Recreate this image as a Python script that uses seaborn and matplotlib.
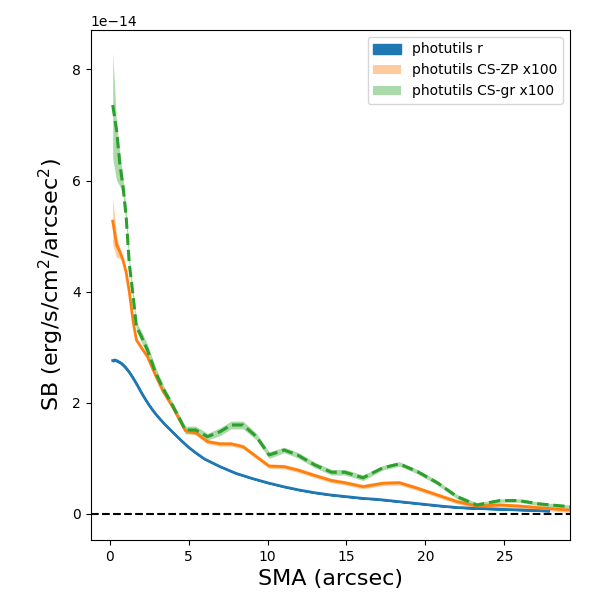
import numpy as np
import pandas as pd
import matplotlib
matplotlib.use("Agg")
import matplotlib.pyplot as plt
import seaborn as sns

# ---------------------------------------------------------------------------
# Data (SB in units of 1e-14 erg/s/cm^2/arcsec^2)
# ---------------------------------------------------------------------------
SCALE = 1e-14

# photutils r profile
r_sma = [0.2, 0.35, 0.5, 0.75, 1.0, 1.25, 1.5, 1.75, 2.0, 2.25, 2.5, 2.75, 3.0,
         3.5, 4.0, 4.5, 5.0, 5.5, 6.0, 6.5, 7.0, 7.5, 8.0, 9.0, 10.0, 11.0,
         12.0, 13.0, 14.0, 15.0, 16.0, 17.0, 18.0, 19.0, 20.0, 21.0, 22.0,
         23.0, 24.0, 25.0, 26.0, 27.0, 27.8]
r_sb = [2.76, 2.77, 2.75, 2.71, 2.64, 2.55, 2.44, 2.32, 2.19, 2.07, 1.96, 1.86,
        1.77, 1.61, 1.47, 1.33, 1.20, 1.09, 0.99, 0.92, 0.85, 0.79, 0.73, 0.64,
        0.56, 0.49, 0.43, 0.38, 0.34, 0.31, 0.28, 0.26, 0.23, 0.20, 0.17, 0.14,
        0.115, 0.10, 0.09, 0.08, 0.07, 0.06, 0.05]

# shared radial grid for the CS profiles
cs_sma = [0.2, 0.45, 0.65, 0.85, 1.05, 1.25, 1.5, 1.7, 2.0, 2.4, 2.9, 3.4, 3.9,
          4.8, 5.45, 6.2, 7.0, 7.7, 8.45, 9.3, 10.1, 11.05, 11.9, 13.0, 14.05,
          14.9, 16.05, 17.3, 18.35, 19.5, 20.75, 22.0, 23.25, 24.7, 25.9, 27.2,
          29.5]

# photutils CS-ZP x100
zp_sb = [5.27, 4.84, 4.72, 4.57, 4.35, 4.0, 3.45, 3.13, 3.0, 2.83, 2.5, 2.2,
         1.97, 1.50, 1.46, 1.30, 1.26, 1.26, 1.21, 1.03, 0.86, 0.85, 0.79, 0.69,
         0.60, 0.56, 0.49, 0.55, 0.56, 0.46, 0.34, 0.22, 0.14, 0.16, 0.14, 0.11,
         0.06]
zp_hi = [5.68, 5.0, 4.8, 4.63, 4.4, 4.05, 3.5, 3.17, 3.04, 2.87, 2.54, 2.24,
         2.0, 1.54, 1.5, 1.34, 1.3, 1.3, 1.25, 1.07, 0.9, 0.89, 0.83, 0.73,
         0.64, 0.6, 0.53, 0.59, 0.6, 0.5, 0.38, 0.26, 0.18, 0.2, 0.18, 0.15,
         0.1]
zp_lo = [4.85, 4.62, 4.6, 4.5, 4.3, 3.95, 3.4, 3.09, 2.96, 2.79, 2.46, 2.16,
         1.94, 1.46, 1.42, 1.26, 1.22, 1.22, 1.17, 0.99, 0.82, 0.81, 0.75, 0.65,
         0.56, 0.52, 0.45, 0.51, 0.52, 0.42, 0.3, 0.18, 0.1, 0.12, 0.1, 0.07,
         0.02]

# photutils CS-gr x100
gr_sb = [7.36, 6.9, 6.3, 5.9, 5.35, 4.5, 3.9, 3.37, 3.2, 2.95, 2.55, 2.25, 2.0,
         1.51, 1.51, 1.39, 1.48, 1.60, 1.60, 1.39, 1.06, 1.15, 1.06, 0.88, 0.75,
         0.75, 0.65, 0.83, 0.90, 0.76, 0.56, 0.31, 0.16, 0.24, 0.24, 0.18, 0.12]
gr_hi = [8.3, 7.0, 6.5, 6.05, 5.5, 4.6, 4.0, 3.45, 3.3, 3.05, 2.65, 2.32, 2.06,
         1.58, 1.58, 1.45, 1.55, 1.67, 1.67, 1.45, 1.12, 1.2, 1.11, 0.93, 0.8,
         0.8, 0.7, 0.87, 0.94, 0.8, 0.6, 0.35, 0.2, 0.27, 0.27, 0.21, 0.15]
gr_lo = [6.4, 6.0, 5.9, 5.75, 5.2, 4.4, 3.8, 3.3, 3.1, 2.85, 2.45, 2.18, 1.94,
         1.44, 1.44, 1.33, 1.41, 1.53, 1.53, 1.33, 1.0, 1.1, 1.01, 0.83, 0.70,
         0.70, 0.60, 0.79, 0.86, 0.72, 0.52, 0.27, 0.12, 0.21, 0.21, 0.15, 0.09]

df_r = pd.DataFrame({"sma": r_sma, "sb": np.array(r_sb) * SCALE})
df_cs = pd.DataFrame({
    "sma": cs_sma,
    "zp": np.array(zp_sb) * SCALE,
    "zp_lo": np.array(zp_lo) * SCALE,
    "zp_hi": np.array(zp_hi) * SCALE,
    "gr": np.array(gr_sb) * SCALE,
    "gr_lo": np.array(gr_lo) * SCALE,
    "gr_hi": np.array(gr_hi) * SCALE,
})

# ---------------------------------------------------------------------------
# Plot
# ---------------------------------------------------------------------------
fig = plt.figure(figsize=(6, 6), dpi=100)
ax = fig.add_axes([0.151, 0.10, 0.799, 0.85])

# photutils r
ax.fill_between(df_r["sma"], df_r["sb"] * 0.995, df_r["sb"] * 1.005,
                color="C0", alpha=1.0, label="photutils r")
sns.lineplot(data=df_r, x="sma", y="sb", color="C0", lw=2,
             estimator=None, sort=False, ax=ax, legend=False)

# photutils CS-ZP x100
ax.fill_between(df_cs["sma"], df_cs["zp_lo"], df_cs["zp_hi"],
                color="C1", alpha=0.4, lw=0, label="photutils CS-ZP x100")
sns.lineplot(data=df_cs, x="sma", y="zp", color="C1", lw=2,
             estimator=None, sort=False, ax=ax, legend=False)

# photutils CS-gr x100
ax.fill_between(df_cs["sma"], df_cs["gr_lo"], df_cs["gr_hi"],
                color="C2", alpha=0.4, lw=0, label="photutils CS-gr x100")
sns.lineplot(data=df_cs, x="sma", y="gr", color="C2", lw=2.2, ls="--",
             estimator=None, sort=False, ax=ax, legend=False)

ax.axhline(0, color="black", ls="--", lw=1.5)

ax.set_xlim(-1.2, 29.15)
ax.set_ylim(-0.47 * SCALE, 8.71 * SCALE)
ax.set_xticks([0, 5, 10, 15, 20, 25])
ax.set_xlabel("SMA (arcsec)", fontsize=16)
ax.set_ylabel("SB (erg/s/cm$^2$/arcsec$^2$)", fontsize=16)
ax.legend(loc="upper right")

fig.savefig("out.png", dpi=100)
